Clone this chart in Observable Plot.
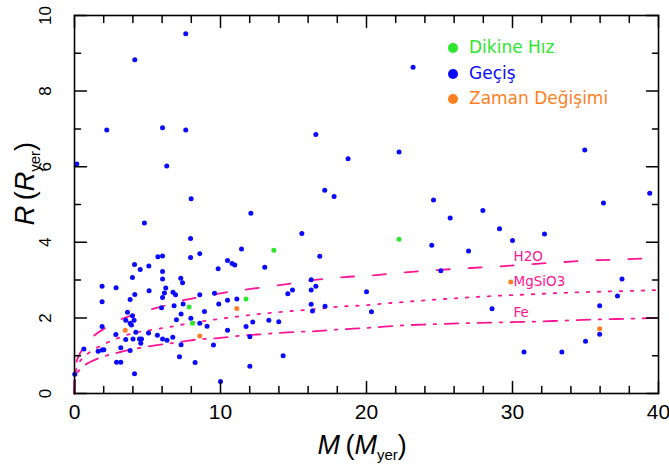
<!DOCTYPE html>
<html><head><meta charset="utf-8">
<script src="https://cdn.jsdelivr.net/npm/d3@7"></script>
<script src="https://cdn.jsdelivr.net/npm/@observablehq/plot@0.6"></script>
<style>
body{margin:0;background:#fff;}
#wrap{position:relative;width:669px;height:473px;overflow:hidden;background:#fff;}
#wrap svg{position:absolute;left:0;top:0;}
.leg{position:absolute;left:448px;font-family:"DejaVu Sans",sans-serif;font-size:17px;line-height:20px;white-space:nowrap;}
.leg .dot{display:inline-block;width:10px;height:10px;border-radius:50%;margin-right:11px;vertical-align:0px;}
.title{position:absolute;font-family:"Liberation Sans",Arial,sans-serif;font-size:27px;white-space:nowrap;color:#000;}
.title sub{font-size:15px;font-style:normal;vertical-align:-6px;}
</style></head><body><div id="wrap"></div>
<script>
// ---- data ----
const transitM = [7.62,4.13,2.21,6.03,7.62,0.16,6.32,7.99,16.53,18.74,17.14,17.78,
 23.19,22.23,34.95,39.40,24.59,
 25.73,27.97,36.23,29.11,32.19,24.47,30.0,26.99,25.09,37.5,20.0,20.34,28.6,37.19,35.97,35.97,35.0,30.79,33.38,
 4.79,5.71,6.03,4.11,4.50,5.09,6.03,3.97,6.03,1.89,2.85,6.25,5.11,4.13,6.16,6.03,3.81,
 1.89,5.96,3.63,3.97,3.51,4.08,3.81,3.90,1.89,2.83,4.20,5.07,5.68,3.51,4.01,4.45,4.59,6.03,6.34,4.54,3.17,3.81,0.64,1.62,1.89,2.01,2.88,3.17,4.11,0.02,
 12.08,7.95,8.58,7.95,11.44,10.48,10.79,10.98,9.84,13.03,7.28,7.40,6.75,6.92,8.58,9.59,11.12,10.48,
 6.82,7.44,9.88,7.30,8.90,6.98,7.97,8.58,9.08,12.21,13.31,11.75,10.48,6.73,12.01,7.30,9.52,7.19,8.26,12.01,10.0,
 15.57,16.80,16.21,16.53,14.93,14.61,16.21,
 16.21,17.16,16.30,13.99,14.29];
const transitR = [9.52,8.83,6.97,7.03,6.97,6.07,6.02,5.15,6.85,6.21,5.38,5.21,
 8.63,6.39,6.44,5.30,5.12,
 4.64,4.84,5.04,4.36,4.22,3.92,4.05,3.77,3.25,3.03,2.69,2.16,2.24,2.58,2.32,1.57,1.38,1.10,1.10,
 4.51,3.62,3.64,3.41,3.28,3.37,3.23,3.07,3.03,2.84,2.80,2.79,2.72,2.62,2.66,2.54,2.49,
 2.43,2.27,2.15,2.06,1.94,1.94,1.86,1.81,1.77,1.56,1.62,1.60,1.54,1.43,1.44,1.44,1.44,1.44,1.41,1.33,1.21,1.14,1.18,1.12,1.15,1.16,0.83,0.83,0.52,0.51,
 4.77,4.10,3.70,3.60,3.82,3.52,3.44,3.40,3.30,3.34,3.05,2.93,2.68,2.61,2.61,2.65,2.50,2.47,
 2.32,2.37,2.37,2.10,2.17,1.95,1.99,1.86,1.78,1.89,1.94,1.77,1.67,1.49,1.50,1.29,1.28,0.97,0.82,0.72,0.32,
 4.23,3.63,3.01,2.84,2.74,2.64,2.74,
 2.36,2.31,2.18,1.90,1.00];
const rvM = [7.85,8.08,11.75,13.65,22.23];
const rvR = [2.29,1.86,2.50,3.79,4.08];
const ttvM = [3.47,8.58,11.12,29.88,35.97];
const ttvR = [1.67,1.52,2.25,2.95,1.71];

const h2oM = [0,0.02,0.1,0.3,0.6,1,1.3,2.26,3.17,4.2,5.2,6.25,7.28,8.42,9.45,10.6,11.6,12.7,13.67,14.8,16.0,17.1,18.5,20.3,22.5,25.0,29.0,33.2,35.4,37.6,40];
const h2oR = [0,0.45,0.75,1.0,1.2,1.42,1.52,1.77,1.96,2.10,2.22,2.33,2.45,2.54,2.61,2.69,2.74,2.80,2.85,2.91,2.98,3.03,3.08,3.12,3.20,3.27,3.36,3.47,3.52,3.55,3.59];
const mgsio3M = [0,0.02,0.1,0.3,0.6,1,2,3.6,5.9,6.8,7.6,9.9,12.1,13.6,15.2,16.7,18.2,19.7,21.9,24.2,26.5,28.7,31.0,33.3,35.6,37.9,40];
const mgsio3R = [0,0.38,0.6,0.8,0.95,1.08,1.3,1.55,1.72,1.78,1.84,1.97,2.08,2.14,2.19,2.24,2.30,2.33,2.40,2.47,2.53,2.58,2.62,2.66,2.69,2.71,2.74];
const feM = [0,0.02,0.1,0.3,0.6,1,2,3.05,3.86,6.8,7.4,8.4,9.7,10.7,12.0,12.9,13.6,14.3,15.2,16.6,17.5,18.9,19.8,21,22,24.3,26.7,29,31.3,33.6,35.9,38.2,40];
const feR = [0,0.3,0.48,0.6,0.72,0.82,0.98,1.09,1.16,1.34,1.37,1.43,1.46,1.50,1.55,1.57,1.59,1.61,1.63,1.65,1.68,1.71,1.73,1.76,1.79,1.83,1.86,1.88,1.90,1.93,1.96,1.98,2.0];

const curveLabels = ["H2O","MgSiO3","Fe"];
const curveLabelM = [30,30,30];
const curveLabelR = [3.62,2.95,2.14];

const xTicks = [0,10,20,30,40];
const xTickLabels = ["0","10","20","30","40"];
const xMinorTicks = [2,4,6,8,12,14,16,18,22,24,26,28,32,34,36,38];
const yTicks = [0,2,4,6,8,10];
const yTickLabels = ["0","2","4","6","8","10"];
const yMinorTicks = [1,3,5,7,9];

const legendLabels = ["Dikine Hız","Geçiş","Zaman Değişimi"];

// ---- build tables ----
const pts = (M,R) => M.map((m,i)=>({M:m,R:R[i]}));
const transit = pts(transitM, transitR), rv = pts(rvM, rvR), ttv = pts(ttvM, ttvR);
const h2o = pts(h2oM,h2oR), mgsio3 = pts(mgsio3M,mgsio3R), fe = pts(feM,feR);
const labs = curveLabels.map((t,i)=>({t, M:curveLabelM[i], R:curveLabelR[i]}));
const xt = xTicks.map((v,i)=>({v, t:xTickLabels[i]}));
const yt = yTicks.map((v,i)=>({v, t:yTickLabels[i]}));

const pink = "#ff1493", blue = "#0a0aff", green = "#2ee62e", orange = "#ff7f1e";
const tickShape = {draw(ctx, l){ ctx.moveTo(0,0); ctx.lineTo(0,-l); }};
const tick = (data, anchor, rot, len) => Plot.vector(data, {
  [anchor==="bottom"||anchor==="top" ? "x" : "y"]: d=>d,
  frameAnchor: anchor, length: len, anchor: "start", rotate: rot,
  shape: tickShape, stroke: "black", strokeWidth: 1.5});

const plot = Plot.plot({
  width: 669, height: 473,
  marginLeft: 74, marginRight: 11, marginTop: 15, marginBottom: 80,
  x: {domain: [0,40], axis: null},
  y: {domain: [0,10], axis: null},
  style: {background: "white", overflow: "visible"},
  marks: [
    Plot.line(h2o, {x:"M", y:"R", stroke: pink, strokeWidth: 1.8, strokeDasharray: "13,19", curve: "monotone-x"}),
    Plot.line(mgsio3, {x:"M", y:"R", stroke: pink, strokeWidth: 1.8, strokeDasharray: "2.5,8.5", curve: "monotone-x"}),
    Plot.line(fe, {x:"M", y:"R", stroke: pink, strokeWidth: 1.8, strokeDasharray: "13.5,8.5,2.5,8.5", curve: "monotone-x"}),
    Plot.text(labs, {x:"M", y:"R", text:"t", fill: pink, fontSize: 13.5, textAnchor: "start", dx: 1, fontFamily: "DejaVu Sans"}),
    Plot.dot(transit, {x:"M", y:"R", r: 2.5, fill: blue}),
    Plot.dot(rv, {x:"M", y:"R", r: 2.5, fill: green}),
    Plot.dot(ttv, {x:"M", y:"R", r: 2.5, fill: orange}),
    Plot.frame({stroke: "black", strokeWidth: 1.6}),
    tick(xMinorTicks, "bottom", 0, 7),
    tick(xTicks, "bottom", 0, 12),
    tick(xMinorTicks, "top", 180, 7),
    tick(xTicks, "top", 180, 12),
    tick(yMinorTicks, "left", 90, 6),
    tick(yTicks, "left", 90, 12),
    tick(yMinorTicks, "right", -90, 6),
    tick(yTicks, "right", -90, 12),
    Plot.text(xt, {x:"v", text:"t", frameAnchor:"bottom", dy: 19, fontSize: 21, fill:"black", fontFamily:"Liberation Sans", lineAnchor:"middle"}),
    Plot.text(yt, {y:"v", text:"t", frameAnchor:"left", dx: -29, rotate: -90, fontSize: 17, fill:"black", fontFamily:"Liberation Sans", textAnchor:"middle", lineAnchor:"middle"})
  ]
});
const wrap = document.getElementById("wrap");
wrap.appendChild(plot);

// legend
const legColors = [green, blue, orange];
legendLabels.forEach((t,i)=>{
  const d = document.createElement("div");
  d.className = "leg";
  d.style.top = (37 + i*25.5) + "px";
  d.style.color = legColors[i];
  d.innerHTML = `<span class="dot" style="background:${legColors[i]}"></span>${t}`;
  wrap.appendChild(d);
});
// axis titles
const xt1 = document.createElement("div");
xt1.className = "title";
xt1.innerHTML = '<i>M</i>&thinsp;(<i>M</i><sub>yer</sub>)';
wrap.appendChild(xt1);
xt1.style.left = (362 - xt1.offsetWidth/2) + "px";
xt1.style.top = (446 - xt1.offsetHeight/2) + "px";
const yt1 = document.createElement("div");
yt1.className = "title";
yt1.innerHTML = '<i>R</i>&thinsp;(<i>R</i><sub>yer</sub>)';
wrap.appendChild(yt1);
yt1.style.left = (26 - yt1.offsetWidth/2) + "px";
yt1.style.top = (183 - yt1.offsetHeight/2) + "px";
yt1.style.transform = "rotate(-90deg)";
</script>
</body></html>
